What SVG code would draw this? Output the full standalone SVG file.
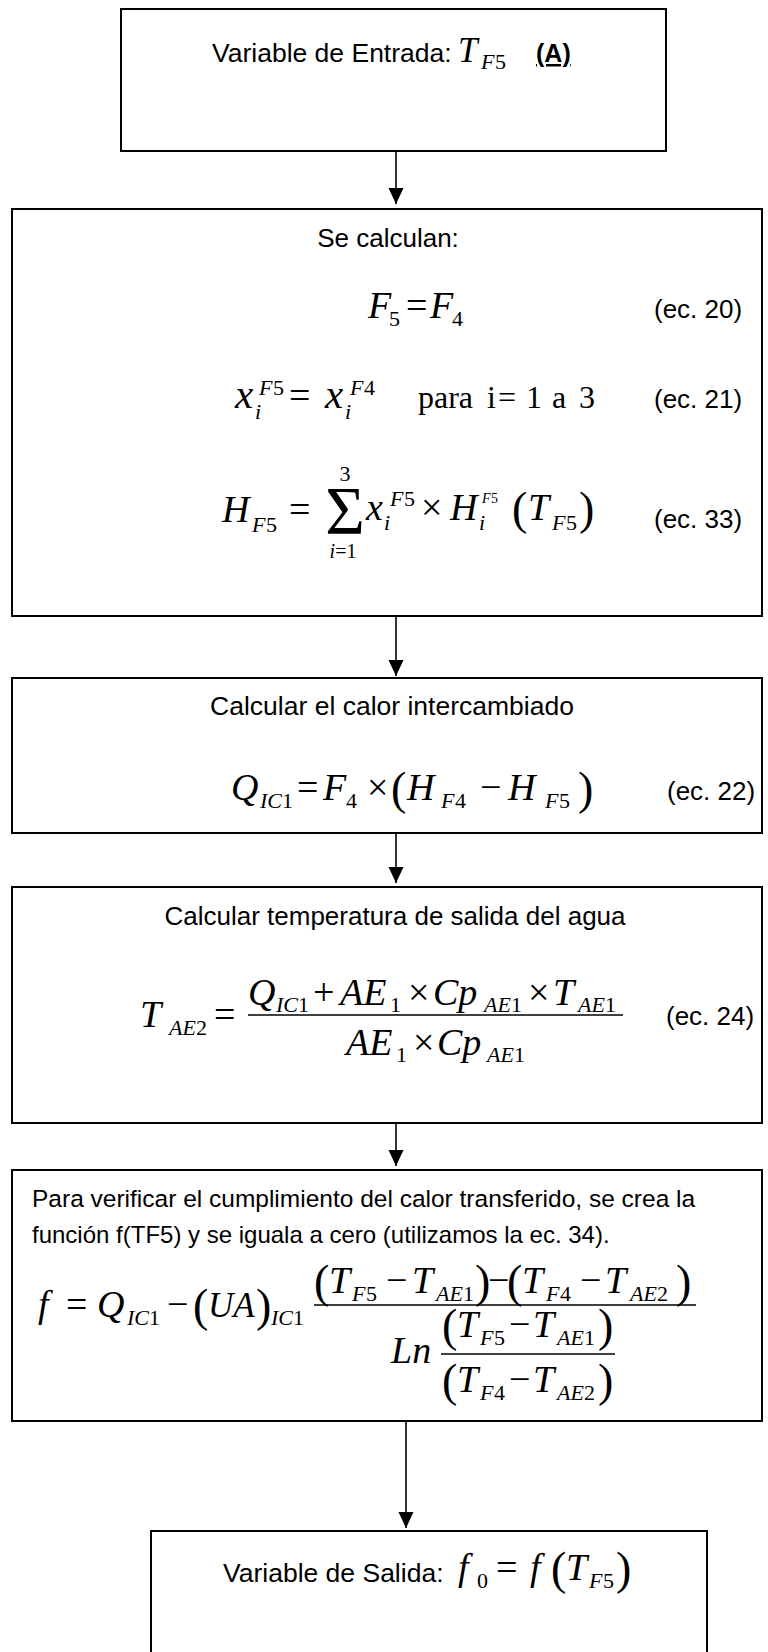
<svg xmlns="http://www.w3.org/2000/svg" width="768" height="1652" viewBox="0 0 768 1652">
<style>
.box{fill:#fff;stroke:#000;stroke-width:2}
.con{stroke:#000;stroke-width:1.6;fill:none}
.bar{stroke:#000;stroke-width:1.5}
.t{font-family:"Liberation Sans",Arial,sans-serif;font-size:26px;fill:#000}
.m{font-family:"Liberation Serif","Times New Roman",serif;font-style:italic;font-size:38px;fill:#000}
.u{font-style:normal}
.s{font-size:22px}
.ss{font-size:14px}
.p{font-size:46px;font-style:normal}
</style>
<defs>
<marker id="ah" markerUnits="userSpaceOnUse" markerWidth="16" markerHeight="16" refX="16" refY="8" orient="auto">
<path d="M0,0.5 L16,8 L0,15.5 z" fill="#000"/>
</marker>
</defs>
<rect width="768" height="1652" fill="#fff"/>
<g id="connectors">
<line class="con" x1="396" y1="151" x2="396" y2="204" marker-end="url(#ah)"/>
<line class="con" x1="396" y1="616" x2="396" y2="676" marker-end="url(#ah)"/>
<line class="con" x1="396" y1="833" x2="396" y2="883" marker-end="url(#ah)"/>
<line class="con" x1="396" y1="1123" x2="396" y2="1166" marker-end="url(#ah)"/>
<line class="con" x1="406" y1="1421" x2="406" y2="1528" marker-end="url(#ah)"/>
</g>
<g id="entrada">
<rect class="box" x="121" y="9" width="545" height="142"/>
<text class="t" x="212" y="62" style="font-size:26.5px">Variable de Entrada:</text>
<text class="m" style="font-size:35px"><tspan x="458" y="62">T</tspan><tspan class="s" x="481" y="69">F</tspan><tspan class="s u" x="495" y="69">5</tspan></text>
<text class="t" x="536" y="62" font-weight="bold" text-decoration="underline" style="font-size:25px">(A)</text>
</g>
<g id="calculan">
<rect class="box" x="12" y="209" width="750" height="407"/>
<text class="t" x="388" y="247" text-anchor="middle">Se calculan:</text>
<text class="m"><tspan x="368" y="318">F</tspan><tspan class="s u" x="389" y="326">5</tspan><tspan class="u" x="406" y="318">=</tspan><tspan x="430" y="318">F</tspan><tspan class="s u" x="452" y="326">4</tspan></text>
<text class="t" x="654" y="318">(ec. 20)</text>
<text class="m" style="font-size:41px"><tspan x="235" y="408">x</tspan><tspan class="s" x="255" y="419">i</tspan><tspan class="s" x="259" y="395">F</tspan><tspan class="s u" x="273" y="395">5</tspan><tspan class="u" x="289" y="408" style="font-size:38px">=</tspan><tspan x="325" y="408">x</tspan><tspan class="s" x="345" y="419">i</tspan><tspan class="s" x="350" y="395">F</tspan><tspan class="s u" x="364" y="395">4</tspan></text>
<text class="m u" style="font-size:32px"><tspan x="418" y="408">para</tspan><tspan x="487" y="408">i</tspan><tspan x="498" y="408">=</tspan><tspan x="526" y="408">1</tspan><tspan x="552" y="408">a</tspan><tspan x="579" y="408">3</tspan></text>
<text class="t" x="654" y="408">(ec. 21)</text>
<text class="m"><tspan x="222" y="522">H</tspan><tspan class="s" x="252" y="532">F</tspan><tspan class="s u" x="266" y="532">5</tspan><tspan class="u" x="289" y="522">=</tspan><tspan x="366" y="520">x</tspan><tspan class="s" x="384" y="530">i</tspan><tspan class="s" x="390" y="506">F</tspan><tspan class="s u" x="404" y="506">5</tspan><tspan class="u" x="421" y="520">×</tspan><tspan x="450" y="520">H</tspan><tspan class="s" x="479" y="530">i</tspan><tspan class="ss" x="482" y="503">F</tspan><tspan class="ss u" x="491" y="503">5</tspan><tspan class="p" x="512" y="524">(</tspan><tspan x="528" y="520">T</tspan><tspan class="s" x="552" y="530">F</tspan><tspan class="s u" x="566" y="530">5</tspan><tspan class="p" x="579" y="524">)</tspan></text>
<text class="m u" x="345" y="533" text-anchor="middle" style="font-size:68px">Σ</text>
<text class="m u" x="345" y="481" text-anchor="middle" style="font-size:22px">3</text>
<text class="m" x="343" y="558" text-anchor="middle" style="font-size:20px">i<tspan class="u">=1</tspan></text>
<text class="t" x="654" y="528">(ec. 33)</text>
</g>
<g id="calor">
<rect class="box" x="12" y="678" width="750" height="155"/>
<text class="t" x="392" y="715" text-anchor="middle" style="font-size:26.5px">Calcular el calor intercambiado</text>
<text class="m"><tspan x="231" y="800">Q</tspan><tspan class="s" x="260" y="808">IC</tspan><tspan class="s u" x="282" y="808">1</tspan><tspan class="u" x="297" y="800">=</tspan><tspan x="323" y="800">F</tspan><tspan class="s u" x="346" y="808">4</tspan><tspan class="u" x="367" y="800">×</tspan><tspan class="p" x="391" y="804">(</tspan><tspan x="407" y="800">H</tspan><tspan class="s" x="441" y="808">F</tspan><tspan class="s u" x="455" y="808">4</tspan><tspan class="u" x="480" y="800">−</tspan><tspan x="508" y="800">H</tspan><tspan class="s" x="545" y="808">F</tspan><tspan class="s u" x="559" y="808">5</tspan><tspan class="p" x="578" y="804">)</tspan></text>
<text class="t" x="667" y="800">(ec. 22)</text>
</g>
<g id="temperatura">
<rect class="box" x="12" y="887" width="750" height="236"/>
<text class="t" x="395" y="925" text-anchor="middle">Calcular temperatura de salida del agua</text>
<text class="m"><tspan x="140" y="1027">T</tspan><tspan class="s" x="169" y="1035">AE</tspan><tspan class="s u" x="196" y="1035">2</tspan><tspan class="u" x="214" y="1027">=</tspan></text>
<line class="bar" x1="248" y1="1015" x2="623" y2="1015"/>
<text class="m"><tspan x="248" y="1005">Q</tspan><tspan class="s" x="276" y="1012">IC</tspan><tspan class="s u" x="298" y="1012">1</tspan><tspan class="u" x="313" y="1005">+</tspan><tspan x="340" y="1005">AE</tspan><tspan class="s u" x="390" y="1012">1</tspan><tspan class="u" x="408" y="1005">×</tspan><tspan x="433" y="1005">Cp</tspan><tspan class="s" x="484" y="1012">AE</tspan><tspan class="s u" x="511" y="1012">1</tspan><tspan class="u" x="528" y="1005">×</tspan><tspan x="553" y="1005">T</tspan><tspan class="s" x="578" y="1012">AE</tspan><tspan class="s u" x="605" y="1012">1</tspan></text>
<text class="m"><tspan x="346" y="1055">AE</tspan><tspan class="s u" x="396" y="1062">1</tspan><tspan class="u" x="413" y="1055">×</tspan><tspan x="437" y="1055">Cp</tspan><tspan class="s" x="487" y="1062">AE</tspan><tspan class="s u" x="514" y="1062">1</tspan></text>
<text class="t" x="666" y="1025">(ec. 24)</text>
</g>
<g id="funcion">
<rect class="box" x="12" y="1170" width="750" height="251"/>
<text class="t" x="32" y="1207" style="font-size:24.5px">Para verificar el cumplimiento del calor transferido, se crea la</text>
<text class="t" x="32" y="1243" style="font-size:24px">función f(TF5) y se iguala a cero (utilizamos la ec. 34).</text>
<text class="m"><tspan x="38" y="1317">f</tspan><tspan class="u" x="66" y="1317">=</tspan><tspan x="97" y="1317">Q</tspan><tspan class="s" x="127" y="1325">IC</tspan><tspan class="s u" x="149" y="1325">1</tspan><tspan class="u" x="167" y="1317">−</tspan><tspan class="p" x="193" y="1321">(</tspan><tspan x="208" y="1317" style="font-size:35px">UA</tspan><tspan class="p" x="256" y="1321">)</tspan><tspan class="s" x="271" y="1325">IC</tspan><tspan class="s u" x="293" y="1325">1</tspan></text>
<line class="bar" x1="314" y1="1305" x2="696" y2="1305"/>
<text class="m"><tspan class="p" x="314" y="1297">(</tspan><tspan x="329" y="1293">T</tspan><tspan class="s" x="352" y="1301">F</tspan><tspan class="s u" x="366" y="1301">5</tspan><tspan class="u" x="386" y="1293">−</tspan><tspan x="412" y="1293">T</tspan><tspan class="s" x="436" y="1301">AE</tspan><tspan class="s u" x="463" y="1301">1</tspan><tspan class="p" x="475" y="1297">)</tspan><tspan class="u" x="488" y="1293">−</tspan><tspan class="p" x="507" y="1297">(</tspan><tspan x="522" y="1293">T</tspan><tspan class="s" x="546" y="1301">F</tspan><tspan class="s u" x="560" y="1301">4</tspan><tspan class="u" x="580" y="1293">−</tspan><tspan x="605" y="1293">T</tspan><tspan class="s" x="630" y="1301">AE</tspan><tspan class="s u" x="657" y="1301">2</tspan><tspan class="p" x="676" y="1297">)</tspan></text>
<text class="m" x="391" y="1363">Ln</text>
<line class="bar" x1="441" y1="1354" x2="615" y2="1354"/>
<text class="m"><tspan class="p" x="442" y="1341">(</tspan><tspan x="457" y="1337">T</tspan><tspan class="s" x="480" y="1345">F</tspan><tspan class="s u" x="494" y="1345">5</tspan><tspan class="u" x="509" y="1337">−</tspan><tspan x="533" y="1337">T</tspan><tspan class="s" x="557" y="1345">AE</tspan><tspan class="s u" x="584" y="1345">1</tspan><tspan class="p" x="598" y="1341">)</tspan></text>
<text class="m"><tspan class="p" x="442" y="1396">(</tspan><tspan x="457" y="1392">T</tspan><tspan class="s" x="480" y="1400">F</tspan><tspan class="s u" x="494" y="1400">4</tspan><tspan class="u" x="509" y="1392">−</tspan><tspan x="533" y="1392">T</tspan><tspan class="s" x="557" y="1400">AE</tspan><tspan class="s u" x="584" y="1400">2</tspan><tspan class="p" x="598" y="1396">)</tspan></text>
</g>
<g id="salida">
<rect class="box" x="151" y="1531" width="556" height="140"/>
<text class="t" x="223" y="1582" style="font-size:26.5px">Variable de Salida:</text>
<text class="m"><tspan x="458" y="1580">f</tspan><tspan class="s u" x="477" y="1588">0</tspan><tspan class="u" x="496" y="1580">=</tspan><tspan x="530" y="1580">f</tspan><tspan class="p" x="551" y="1584">(</tspan><tspan x="566" y="1580">T</tspan><tspan class="s" x="589" y="1588">F</tspan><tspan class="s u" x="603" y="1588">5</tspan><tspan class="p" x="616" y="1584">)</tspan></text>
</g>
</svg>
